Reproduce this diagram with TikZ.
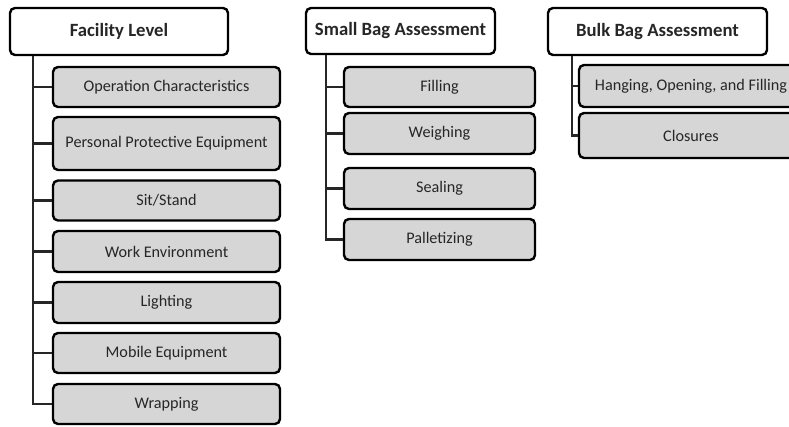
\documentclass[tikz,border=0pt]{standalone}
\usepackage{fontspec}
\setmainfont{Carlito}
\usetikzlibrary{positioning}

\tikzset{
  head/.style={draw, line width=2.4pt, rounded corners=5pt, fill=white,
    font=\fontsize{18.7}{22}\selectfont\bfseries, text=black!85},
  item/.style={draw, line width=2.4pt, rounded corners=5pt, fill=black!16,
    font=\fontsize{16.2}{19}\selectfont, text=black!85},
  link/.style={line width=2.4pt, black!85}
}

\begin{document}
\begin{tikzpicture}[x=1pt,y=-1pt]
  \clip (0,0) rectangle (789,427);

  % column heads
  \node[head, minimum width=218pt, minimum height=47pt] (fac) at (119,31.5) {Facility Level};
  \node[head, minimum width=189pt, minimum height=46pt] (small) at (400.5,31) {Small Bag Assessment};
  \node[head, minimum width=219pt, minimum height=47pt] (bulk) at (657.5,31.5) {Bulk Bag Assessment};

  % trunk positions
  \coordinate (facx) at (33,0);
  \coordinate (smallx) at (326,0);
  \coordinate (bulkx) at (572,0);

  % facility level items
  \foreach \name/\y/\h/\txt in {
      oper/87/40/Operation Characteristics,
      ppe/143.5/53/Personal Protective Equipment,
      sit/200.5/40/{Sit/Stand},
      work/251.5/41/Work Environment,
      light/302.5/41/Lighting,
      mobile/353/40/Mobile Equipment,
      wrap/404/40/Wrapping} {
    \node[item, minimum width=227pt, minimum height=\h pt] (\name) at (166.5,\y) {\txt};
    \draw[link] (fac.south -| facx) |- (\name.west);
  }

  % small bag items
  \foreach \name/\y/\h/\txt in {
      fill/87/40/Filling,
      weigh/133.5/41/Weighing,
      seal/188.5/41/Sealing,
      pallet/239.5/41/Palletizing} {
    \node[item, minimum width=191pt, minimum height=\h pt] (\name) at (439.5,\y) {\txt};
    \draw[link] (small.south -| smallx) |- (\name.west);
  }

  % bulk bag items (run off the right edge)
  \node[item, minimum width=224pt, minimum height=42pt] (hang) at (691,86) {Hanging, Opening, and Filling};
  \node[item, minimum width=224pt, minimum height=45pt] (clos) at (691,135.5) {Closures};
  \draw[link] (bulk.south -| bulkx) |- (hang.west);
  \draw[link] (bulk.south -| bulkx) |- (clos.west);
\end{tikzpicture}
\end{document}
